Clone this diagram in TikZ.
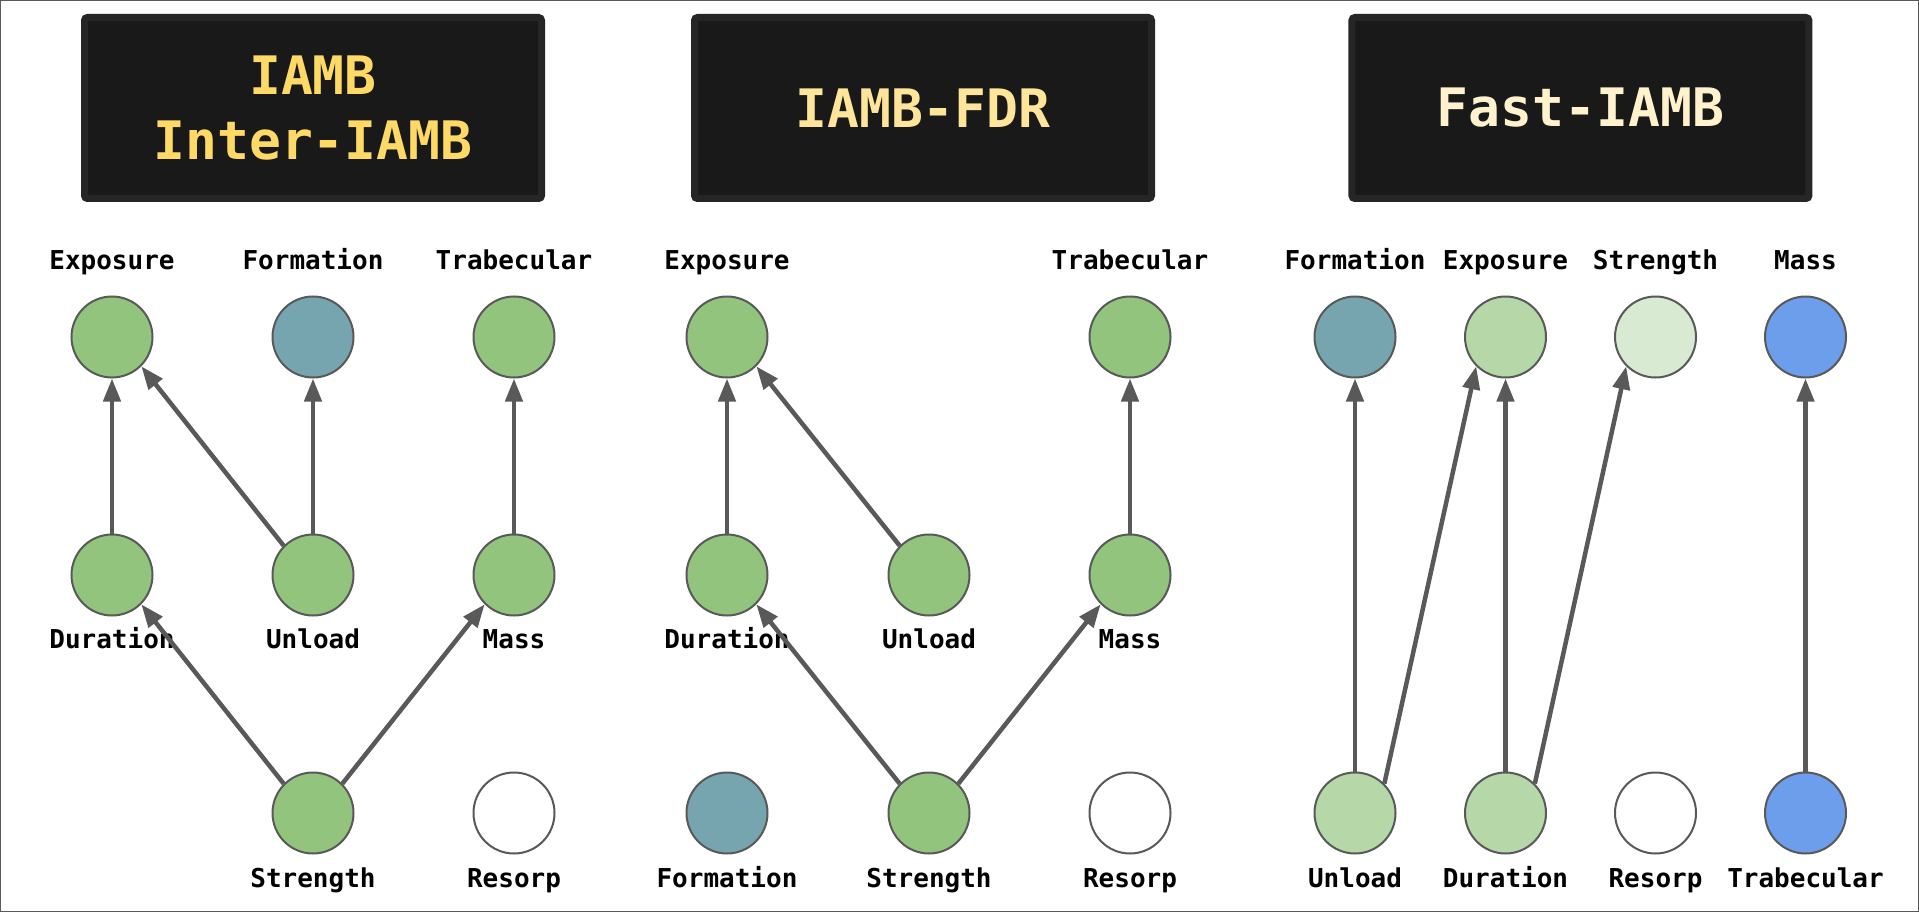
\documentclass[tikz,border=0pt]{standalone}
\usepackage{fontspec}
\setmonofont{DejaVu Sans Mono}
\usetikzlibrary{arrows.meta}
\definecolor{boxfill}{HTML}{191919}
\definecolor{boxline}{HTML}{262626}
\definecolor{tyellowA}{HTML}{FFD966}
\definecolor{tyellowB}{HTML}{FFE599}
\definecolor{tyellowC}{HTML}{FFF2CC}
\definecolor{cgreen}{HTML}{93C47D}
\definecolor{clgreen}{HTML}{B6D7A8}
\definecolor{cllgreen}{HTML}{D9EAD3}
\definecolor{cteal}{HTML}{76A5AF}
\definecolor{cblue}{HTML}{6D9EEB}
\definecolor{nodeline}{HTML}{595959}
\definecolor{edgecol}{HTML}{595959}
\begin{document}
\begin{tikzpicture}[x=1pt,y=-1pt,
  titlebox/.style={draw=boxline, fill=boxfill, line width=7pt, rounded corners=3pt,
    minimum width=457pt, minimum height=181pt, inner sep=0pt, align=center,
    font=\ttfamily\bfseries\fontsize{53}{65}\selectfont},
  vnode/.style={circle, draw=nodeline, line width=2pt, minimum size=81pt, inner sep=0pt},
  green/.style={vnode, fill=cgreen},
  lgreen/.style={vnode, fill=clgreen},
  llgreen/.style={vnode, fill=cllgreen},
  teal/.style={vnode, fill=cteal},
  blue/.style={vnode, fill=cblue},
  white/.style={vnode, fill=white},
  lbl/.style={font=\ttfamily\bfseries\fontsize{26}{26}\selectfont, anchor=base, inner sep=0pt, text=black},
  arr/.style={draw=edgecol, line width=4.5pt, -{Triangle[length=23pt,width=17pt]}}
]
\useasboundingbox (0,0) rectangle (1919,912);
\fill[white] (0,0) rectangle (1919,912);

% ---------- titles ----------
\node[titlebox, text=tyellowA] (t1) at (313,108) {IAMB\\Inter-IAMB};
\node[titlebox, text=tyellowB] (t2) at (923,108) {IAMB-FDR};
\node[titlebox, text=tyellowC] (t3) at (1580.4,108) {Fast-IAMB};

% ---------- panel 1 ----------
\node[green] (aexp)  at (112,337) {};
\node[teal]  (aform) at (313,337) {};
\node[green] (atrab) at (514,337) {};
\node[green] (adur)  at (112,575) {};
\node[green] (aunl)  at (313,575) {};
\node[green] (amass) at (514,575) {};
\node[green] (astr)  at (313,813) {};
\node[white] (ares)  at (514,813) {};

\node[lbl] (laexp)  at (112,269) {Exposure};
\node[lbl] (laform) at (313,269) {Formation};
\node[lbl] (latrab) at (514,269) {Trabecular};
\node[lbl] (ladur)  at (112,648) {Duration};
\node[lbl] (launl)  at (313,648) {Unload};
\node[lbl] (lamass) at (514,648) {Mass};
\node[lbl] (lastr)  at (313,887) {Strength};
\node[lbl] (lares)  at (514,887) {Resorp};

\draw[arr] (adur.north) -- (aexp.south);
\draw[arr] (aunl.135) -- (aexp.-45);
\draw[arr] (aunl.north) -- (aform.south);
\draw[arr] (amass.north) -- (atrab.south);
\draw[arr] (astr.135) -- (adur.-45);
\draw[arr] (astr.45) -- (amass.225);

% ---------- panel 2 ----------
\node[green] (bexp)  at (727,337) {};
\node[green] (btrab) at (1130,337) {};
\node[green] (bdur)  at (727,575) {};
\node[green] (bunl)  at (929,575) {};
\node[green] (bmass) at (1130,575) {};
\node[teal]  (bform) at (727,813) {};
\node[green] (bstr)  at (929,813) {};
\node[white] (bres)  at (1130,813) {};

\node[lbl] (lbexp)  at (727,269) {Exposure};
\node[lbl] (lbtrab) at (1130,269) {Trabecular};
\node[lbl] (lbdur)  at (727,648) {Duration};
\node[lbl] (lbunl)  at (929,648) {Unload};
\node[lbl] (lbmass) at (1130,648) {Mass};
\node[lbl] (lbform) at (727,887) {Formation};
\node[lbl] (lbstr)  at (929,887) {Strength};
\node[lbl] (lbres)  at (1130,887) {Resorp};

\draw[arr] (bdur.north) -- (bexp.south);
\draw[arr] (bunl.135) -- (bexp.-45);
\draw[arr] (bmass.north) -- (btrab.south);
\draw[arr] (bstr.135) -- (bdur.-45);
\draw[arr] (bstr.45) -- (bmass.225);

% ---------- panel 3 ----------
\node[teal]    (cform) at (1355,337) {};
\node[lgreen]  (cexp)  at (1505.5,337) {};
\node[llgreen] (cstr)  at (1655.5,337) {};
\node[blue]    (cmass) at (1805.5,337) {};
\node[lgreen]  (cunl)  at (1355,813) {};
\node[lgreen]  (cdur)  at (1505.5,813) {};
\node[white]   (cres)  at (1655.5,813) {};
\node[blue]    (ctrab) at (1805.5,813) {};

\node[lbl] (lcform) at (1355,269) {Formation};
\node[lbl] (lcexp)  at (1505.5,269) {Exposure};
\node[lbl] (lcstr)  at (1655.5,269) {Strength};
\node[lbl] (lcmass) at (1805.5,269) {Mass};
\node[lbl] (lcunl)  at (1355,887) {Unload};
\node[lbl] (lcdur)  at (1505.5,887) {Duration};
\node[lbl] (lcres)  at (1655.5,887) {Resorp};
\node[lbl] (lctrab) at (1805.5,887) {Trabecular};

\draw[arr] (cunl.north) -- (cform.south);
\draw[arr] (cunl.45) -- (cexp.225);
\draw[arr] (cdur.north) -- (cexp.south);
\draw[arr] (cdur.45) -- (cstr.225);
\draw[arr] (ctrab.north) -- (cmass.south);
\end{tikzpicture}
\end{document}
